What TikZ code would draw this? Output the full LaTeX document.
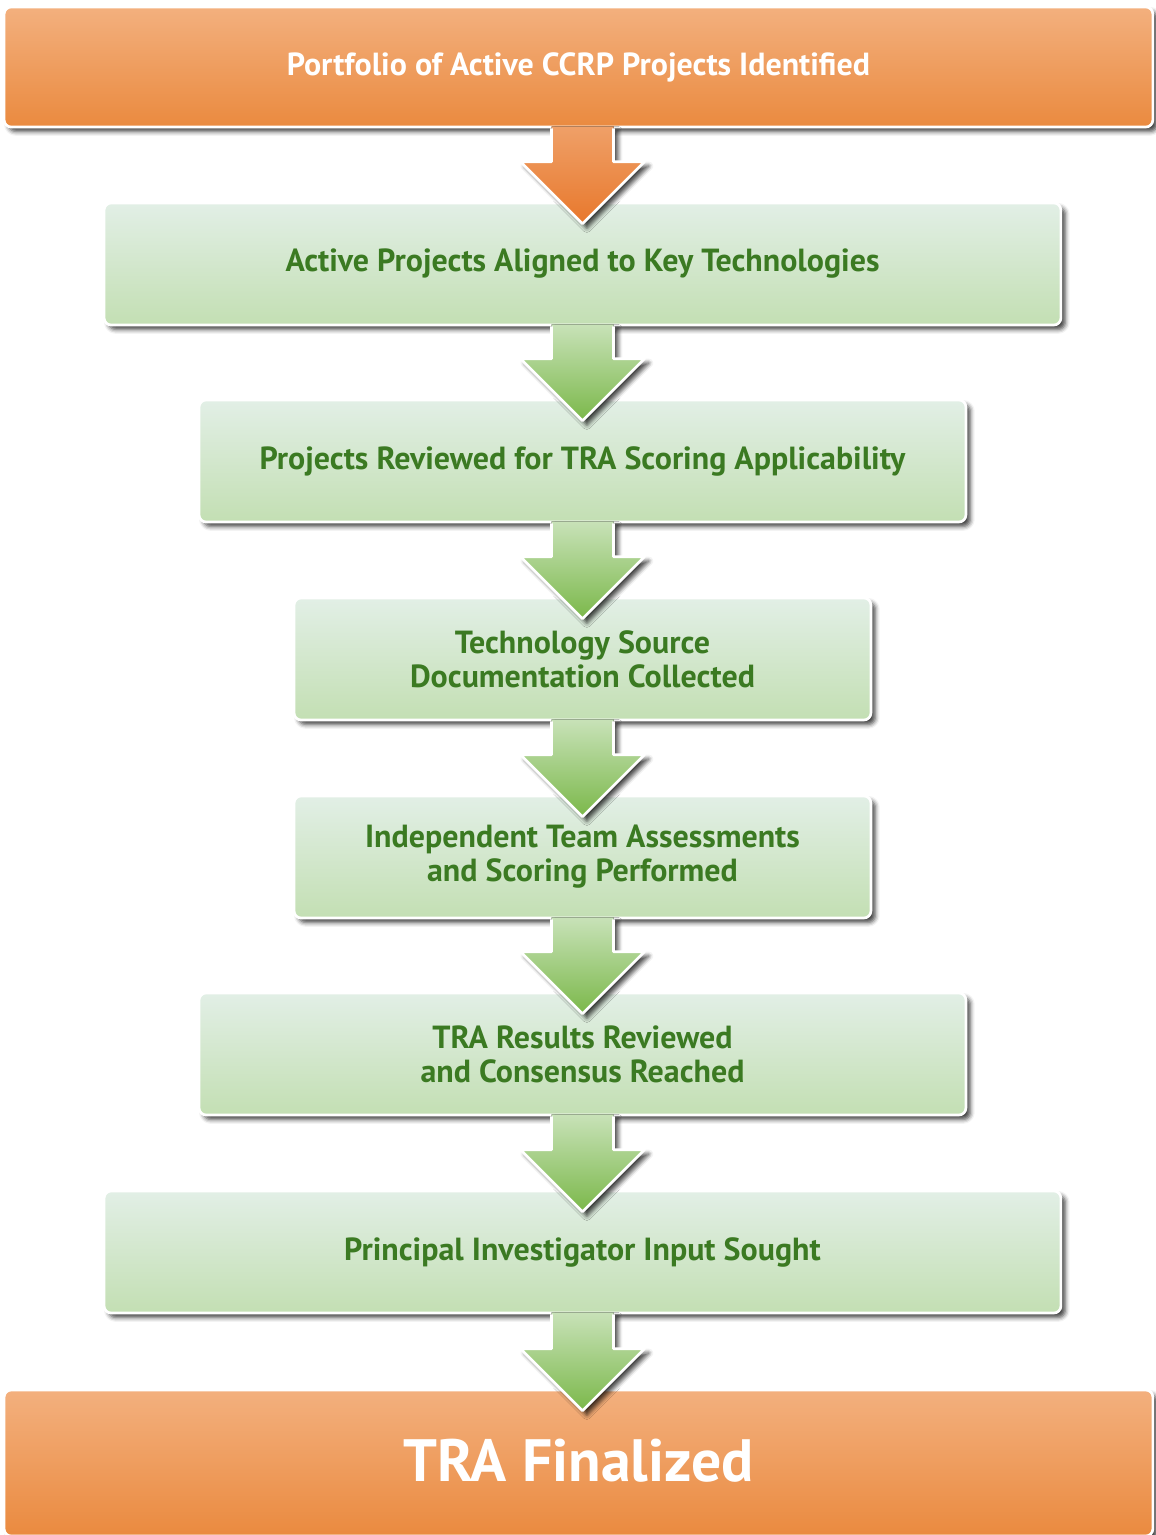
\documentclass[tikz,border=0pt]{standalone}
\usepackage{fontspec}
\setmainfont{PT Sans}
\usetikzlibrary{calc,shadows.blur}
\definecolor{orangetop}{HTML}{F3B07E}
\definecolor{orangebot}{HTML}{EA8A3F}
\definecolor{greentop}{HTML}{E2EFE6}
\definecolor{greenbot}{HTML}{C3DFB3}
\definecolor{arrowgreentop}{HTML}{C8E2B8}
\definecolor{arrowgreenbot}{HTML}{7BB84A}
\definecolor{arroworangetop}{HTML}{EFA068}
\definecolor{arroworangebot}{HTML}{E8782C}
\definecolor{labelgreen}{HTML}{3B7A22}

\begin{document}
\begin{tikzpicture}[x=0.02cm, y=0.02cm,
  boxshadow/.style={blur shadow={shadow xshift=2.5pt, shadow yshift=-2.5pt, shadow blur radius=2.5pt, shadow opacity=75}},
  default/.style={rectangle, rounded corners=4pt, draw=white, line width=1.5pt, boxshadow, align=center, inner sep=0pt},
  greenbox/.style={default, top color=greentop, bottom color=greenbot, text=labelgreen, font=\fontsize{18.2}{19.3}\selectfont\bfseries},
  orangebox/.style={default, top color=orangetop, bottom color=orangebot, text=white},
  greenarrow/.style={top color=arrowgreentop, bottom color=arrowgreenbot, boxshadow},
  orangearrow/.style={top color=arroworangetop, bottom color=arroworangebot, boxshadow}]
\useasboundingbox (0,0) rectangle (1156,-1535);
\node[orangebox, minimum width=22.98cm, minimum height=2.4cm, font=\fontsize{18.2}{19.3}\selectfont\bfseries] (b0) at (578.5,-67) {Portfolio of Active CCRP Projects Identified};
\node[greenbox, minimum width=19.14cm, minimum height=2.44cm] (b1) at (582.5,-264) {Active Projects Aligned to Key Technologies};
\node[greenbox, minimum width=15.34cm, minimum height=2.44cm] (b2) at (582.5,-461) {Projects Reviewed for TRA Scoring Applicability};
\node[greenbox, minimum width=11.54cm, minimum height=2.44cm] (b3) at (582.5,-659) {Technology Source\\Documentation Collected};
\node[greenbox, minimum width=11.54cm, minimum height=2.44cm] (b4) at (582.5,-857) {Independent Team Assessments\\and Scoring Performed};
\node[greenbox, minimum width=15.34cm, minimum height=2.44cm] (b5) at (582.5,-1054) {TRA Results Reviewed\\and Consensus Reached};
\node[greenbox, minimum width=19.14cm, minimum height=2.44cm] (b6) at (582.5,-1252) {Principal Investigator Input Sought};
\node[orangebox, minimum width=22.98cm, minimum height=2.92cm, font=\fontsize{34}{38}\selectfont\bfseries] (b7) at (578.5,-1463) {\raisebox{0.1cm}{TRA Finalized}};
% block arrows between the steps
\foreach \a/\b/\s in {b0/b1/orangearrow, b1/b2/greenarrow, b2/b3/greenarrow, b3/b4/greenarrow,
                      b4/b5/greenarrow, b5/b6/greenarrow, b6/b7/greenarrow} {
  \path (b1.north |- \a.south) coordinate (top) ($(b1.north |- \b.north)+(0,-22)$) coordinate (tip);
  \fill[\s] ($(top)+(-31,2)$) -- ($(tip)+(-31,62)$) -- ($(tip)+(-62,62)$) -- (tip)
    -- ($(tip)+(62,62)$) -- ($(tip)+(31,62)$) -- ($(top)+(31,2)$) -- cycle;
  \draw[white, line width=1.5pt, line join=round] ($(top)+(-31,0)$) -- ($(tip)+(-31,62)$) -- ($(tip)+(-62,62)$) -- (tip)
    -- ($(tip)+(62,62)$) -- ($(tip)+(31,62)$) -- ($(top)+(31,0)$);
}
\end{tikzpicture}
\end{document}
